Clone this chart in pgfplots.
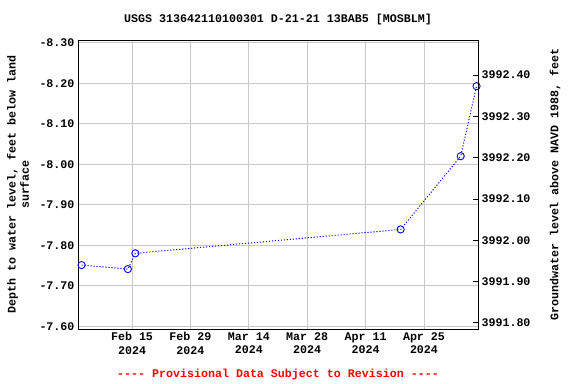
\documentclass[border=0pt]{standalone}
\usepackage{fontspec}
\setmainfont{Liberation Mono}
\usepackage{pgfplots}
\pgfplotsset{compat=1.18}
\newcommand{\cf}{\fontsize{11.7}{13.2}\selectfont\bfseries}
\definecolor{gridgray}{RGB}{200,200,200}
\begin{document}
\begin{tikzpicture}
\path[use as bounding box] (0bp,0bp) rectangle (576bp,384bp);
\begin{axis}[
  at={(78bp,55bp)}, anchor=south west,
  width=400bp, height=289bp, scale only axis,
  xmin=-12.95, xmax=82.95,
  ymin=-8.307, ymax=-7.593, y dir=reverse,
  xtick={0,14,28,42,56,70},
  xticklabels={{Feb 15\\2024},{Feb 29\\2024},{Mar 14\\2024},{Mar 28\\2024},{Apr 11\\2024},{Apr 25\\2024}},
  ytick={-8.3,-8.2,-8.1,-8.0,-7.9,-7.8,-7.7,-7.6},
  yticklabels={-8.30,-8.20,-8.10,-8.00,-7.90,-7.80,-7.70,-7.60},
  x tick label style={font=\cf, align=center},
  y tick label style={font=\cf},
  xmajorgrids, ymajorgrids,
  major grid style={gridgray, line width=0.8pt},
  major tick length=0pt,
  axis line style={black, line width=0.8pt},
  ytick pos=left, xtick pos=bottom,
  ylabel={Depth to water level, feet below land\\surface},
  every axis y label/.style={at={(axis description cs:-0.15,0.5)}, rotate=90, anchor=center, align=center, font=\cf},
  title={USGS 313642110100301 D-21-21 13BAB5 [MOSBLM]},
  every axis title/.style={at={(axis description cs:0.5,1)}, anchor=center, yshift=21bp, font=\cf},
  clip=false,
]
\addplot[blue, line width=1pt, dash pattern=on 1.1bp off 1.9bp, mark=o, mark size=3.6bp, mark options={solid, line width=0.9pt}]
coordinates {
(-12.1,-7.751)
(-1.0,-7.741)
(0.8,-7.780)
(64.4,-7.839)
(78.8,-8.020)
(82.6,-8.193)
};
\node[font=\cf, text=red, anchor=center] at (axis description cs:0.5,-0.159) {-{}-{}-{}- Provisional Data Subject to Revision -{}-{}-{}-};
\end{axis}
\begin{axis}[
  at={(78bp,55bp)}, anchor=south west,
  width=400bp, height=289bp, scale only axis,
  xmin=-12.95, xmax=82.95,
  ymin=3991.785, ymax=3992.485,
  axis x line=none,
  axis y line*=right,
  axis line style={black, line width=0.8pt},
  ytick={3991.8,3991.9,3992.0,3992.1,3992.2,3992.3,3992.4},
  yticklabels={3991.80,3991.90,3992.00,3992.10,3992.20,3992.30,3992.40},
  y tick label style={font=\cf},
  tick style={black, line width=0.8pt},
  major tick length=5bp,
  tick align=inside,
  ylabel={Groundwater level above NAVD 1988, feet},
  every axis y label/.style={at={(axis description cs:1.1925,0.5)}, rotate=90, anchor=center, font=\cf},
]
\end{axis}
\end{tikzpicture}
\end{document}
